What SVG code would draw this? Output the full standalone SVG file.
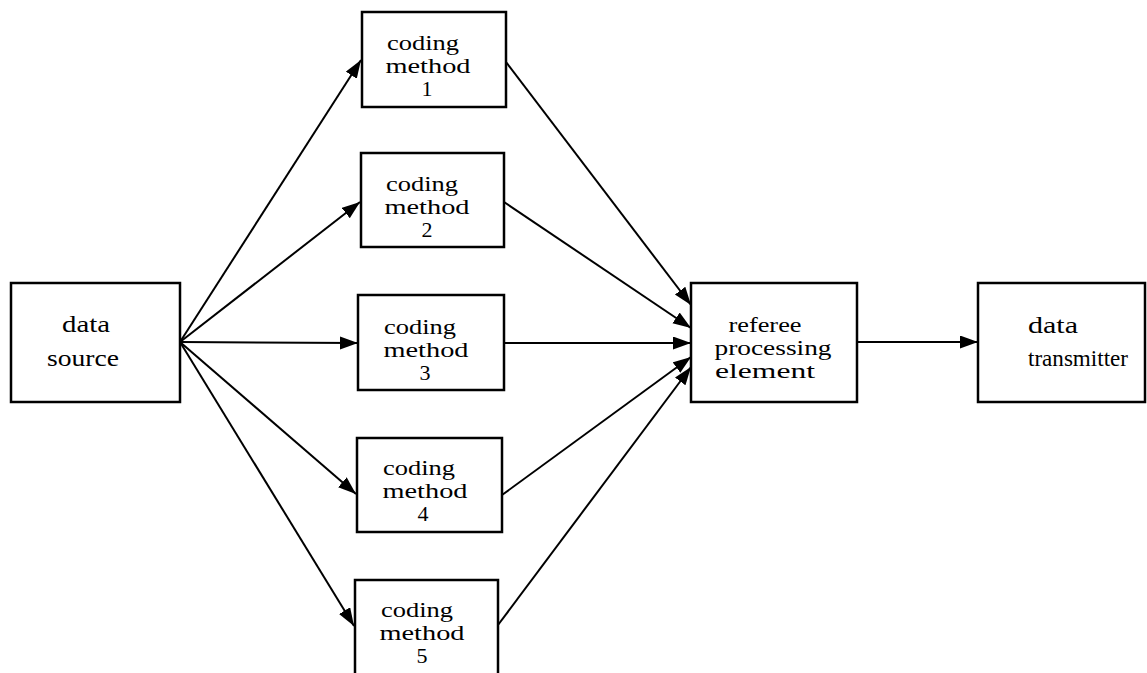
<svg xmlns="http://www.w3.org/2000/svg" width="1147" height="673" viewBox="0 0 1147 673">
  <style>
    .box { fill: #fff; stroke: #000; stroke-width: 2.5; }
    .lbl { font-family: "Liberation Serif", "Times New Roman", serif; font-size: 22px; fill: #000; text-anchor: middle; }
    .lbl-l { font-family: "Liberation Serif", "Times New Roman", serif; font-size: 23px; fill: #000; text-anchor: start; }
    .big { font-size: 23px; }
    .edge { fill: none; stroke: #000; stroke-width: 2; marker-end: url(#arrow); }
  </style>
  <defs>
    <marker id="arrow" markerUnits="userSpaceOnUse" markerWidth="20" markerHeight="14" refX="18" refY="6.5" orient="auto">
      <path d="M0,0 L18,6.5 L0,13 Z" fill="#000"/>
    </marker>
  </defs>
  <rect width="1147" height="673" fill="#fff"/>

  <g id="connectors">
    <line class="edge" x1="180" y1="342" x2="361" y2="60"/>
    <line class="edge" x1="180" y1="342" x2="360" y2="202"/>
    <line class="edge" x1="180" y1="342" x2="358" y2="343"/>
    <line class="edge" x1="180" y1="342" x2="356" y2="494"/>
    <line class="edge" x1="180" y1="342" x2="354" y2="626"/>
    <line class="edge" x1="506" y1="62" x2="691" y2="305"/>
    <line class="edge" x1="504" y1="202" x2="691" y2="328"/>
    <line class="edge" x1="504" y1="343" x2="691" y2="343"/>
    <line class="edge" x1="502" y1="495" x2="691" y2="357"/>
    <line class="edge" x1="498" y1="625" x2="691" y2="367"/>
    <line class="edge" x1="857" y1="342" x2="978" y2="342"/>
  </g>

  <g id="data-source">
    <rect class="box" x="11" y="283" width="169" height="119"/>
    <text class="lbl big" x="86" y="332" textLength="48" lengthAdjust="spacingAndGlyphs">data</text>
    <text class="lbl big" x="83" y="366" textLength="72" lengthAdjust="spacingAndGlyphs">source</text>
  </g>

  <g id="coding-method-1">
    <rect class="box" x="362" y="12" width="144" height="95"/>
    <text class="lbl" x="423" y="50" textLength="72" lengthAdjust="spacingAndGlyphs">coding</text>
    <text class="lbl" x="428" y="73" textLength="85" lengthAdjust="spacingAndGlyphs">method</text>
    <text class="lbl" x="427" y="96">1</text>
  </g>

  <g id="coding-method-2">
    <rect class="box" x="361" y="153" width="143" height="94"/>
    <text class="lbl" x="422" y="191" textLength="72" lengthAdjust="spacingAndGlyphs">coding</text>
    <text class="lbl" x="427" y="214" textLength="85" lengthAdjust="spacingAndGlyphs">method</text>
    <text class="lbl" x="427" y="237">2</text>
  </g>

  <g id="coding-method-3">
    <rect class="box" x="358" y="295" width="146" height="95"/>
    <text class="lbl" x="420" y="334" textLength="72" lengthAdjust="spacingAndGlyphs">coding</text>
    <text class="lbl" x="426" y="357" textLength="85" lengthAdjust="spacingAndGlyphs">method</text>
    <text class="lbl" x="425" y="380">3</text>
  </g>

  <g id="coding-method-4">
    <rect class="box" x="357" y="438" width="145" height="94"/>
    <text class="lbl" x="419" y="475" textLength="72" lengthAdjust="spacingAndGlyphs">coding</text>
    <text class="lbl" x="425" y="498" textLength="85" lengthAdjust="spacingAndGlyphs">method</text>
    <text class="lbl" x="423" y="521">4</text>
  </g>

  <g id="coding-method-5">
    <rect class="box" x="355" y="580" width="143" height="100"/>
    <text class="lbl" x="417" y="617" textLength="72" lengthAdjust="spacingAndGlyphs">coding</text>
    <text class="lbl" x="422" y="640" textLength="85" lengthAdjust="spacingAndGlyphs">method</text>
    <text class="lbl" x="422" y="663">5</text>
  </g>

  <g id="referee-processing-element">
    <rect class="box" x="691" y="283" width="166" height="119"/>
    <text class="lbl" x="765" y="332" textLength="73" lengthAdjust="spacingAndGlyphs">referee</text>
    <text class="lbl" x="773" y="355" textLength="117" lengthAdjust="spacingAndGlyphs">processing</text>
    <text class="lbl" x="765" y="378" textLength="100" lengthAdjust="spacingAndGlyphs">element</text>
  </g>

  <g id="data-transmitter">
    <rect class="box" x="978" y="283" width="167" height="119"/>
    <text class="lbl-l" x="1028" y="333" textLength="50" lengthAdjust="spacingAndGlyphs">data</text>
    <text class="lbl-l" x="1028" y="366" textLength="100" lengthAdjust="spacingAndGlyphs">transmitter</text>
  </g>
</svg>
